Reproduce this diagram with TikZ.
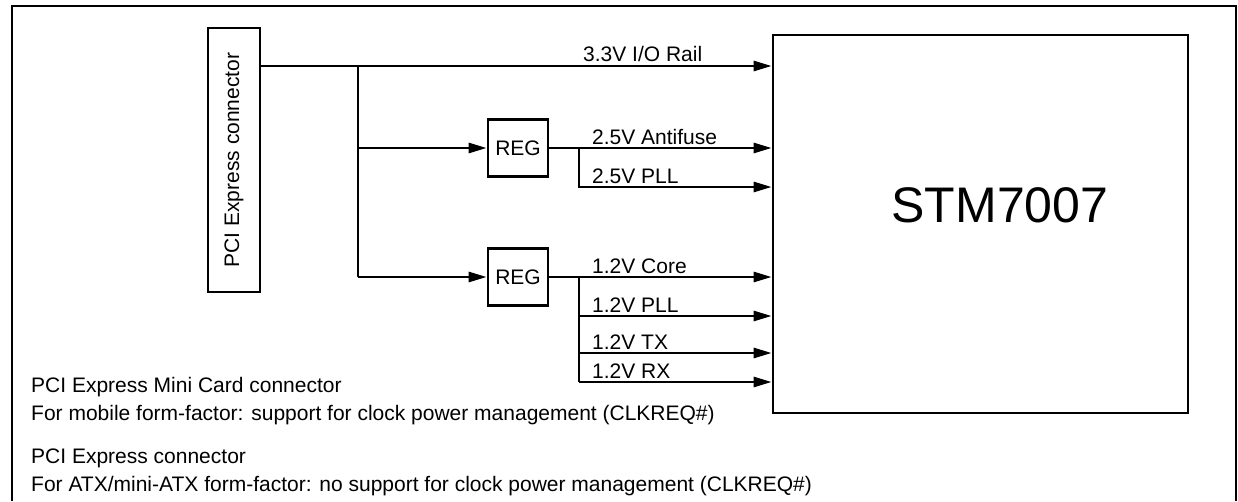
\documentclass[tikz,border=0pt]{standalone}
\usepackage{fontspec}
\setmainfont{Liberation Sans}
\usetikzlibrary{arrows.meta}
\begin{document}
\begin{tikzpicture}[x=1pt,y=-1pt,
  every node/.style={font=\fontsize{21}{24}\selectfont},
  wire/.style={line width=2.7pt},
  arr/.style={wire,-{Triangle[length=18pt,width=10pt]}},
  box/.style={draw,line width=2.7pt,inner sep=0pt},
  lbl/.style={anchor=base west,inner sep=0pt},
  captxt/.style={anchor=base west,inner sep=0pt}]
\useasboundingbox (0,0) rectangle (1238,501);
% outer frame
\draw[line width=2.7pt] (12,501) -- (12,6) -- (1236,6) -- (1236,501);
% nodes
\node[box,rotate=90,minimum width=264pt,minimum height=52pt] (conn) at (234,160) {PCI Express connector\hspace{14pt}};
\node[box,minimum width=415pt,minimum height=378pt] (stm) at (980.5,224) {};
\node[inner sep=0pt,font=\fontsize{50}{56}\selectfont] (stmlbl) at (1000,205) {STM7007};
\node[box,minimum width=60pt,minimum height=57pt] (reg1) at (518,148) {REG};
\node[box,minimum width=60pt,minimum height=57pt] (reg2) at (518,277) {REG};
% junction coordinates
\coordinate (c0) at (260,66);
\coordinate (bt) at (358,66);
\coordinate (b1) at (358,148);
\coordinate (b2) at (358,277);
\coordinate (s1) at (579,148);
\coordinate (s1b) at (579,187);
\coordinate (s2) at (579,277);
\coordinate (s2a) at (579,316);
\coordinate (s2b) at (579,353);
\coordinate (s2c) at (579,382);
% wires
\draw[arr] (c0) -- (c0 -| stm.west);
\draw[wire] (bt) -- (b2);
\draw[arr] (b1) -- (reg1.west);
\draw[arr] (b2) -- (reg2.west);
\draw[arr] (reg1.east) -- (reg1.east -| stm.west);
\draw[arr] (s1) -- (s1b) -- (s1b -| stm.west);
\draw[arr] (reg2.east) -- (reg2.east -| stm.west);
\draw[wire] (s2) -- (s2c);
\draw[arr] (s2a) -- (s2a -| stm.west);
\draw[arr] (s2b) -- (s2b -| stm.west);
\draw[arr] (s2c) -- (s2c -| stm.west);
% labels
\node[lbl] (l33) at (583,61) {3.3V I/O Rail};
\node[lbl] (l25a) at (592,144) {2.5V Antifuse};
\node[lbl] (l25p) at (592,183) {2.5V PLL};
\node[lbl] (l12c) at (592,273) {1.2V Core};
\node[lbl] (l12p) at (592,312) {1.2V PLL};
\node[lbl] (l12t) at (592,349) {1.2V TX};
\node[lbl] (l12r) at (592,378) {1.2V RX};
% captions
\node[captxt] (t1) at (31,392) {PCI Express Mini Card connector};
\node[captxt] (t2) at (31,420) {For mobile form-factor: support for clock power management (CLKREQ\#)};
\node[captxt] (t3) at (31,463) {PCI Express connector};
\node[captxt] (t4) at (31,491) {For ATX/mini-ATX form-factor: no support for clock power management (CLKREQ\#)};
\end{tikzpicture}
\end{document}
